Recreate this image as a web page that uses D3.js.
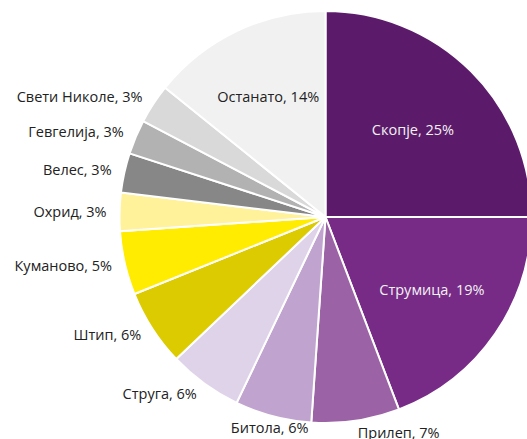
<!DOCTYPE html>
<html>
<head>
<meta charset="utf-8">
<script src="https://cdn.jsdelivr.net/npm/d3@7"></script>
<style>
  html, body { margin: 0; padding: 0; background: #fff; overflow: hidden; }
  text { font-family: "Open Sans", "Noto Sans", sans-serif; font-size: 14.5px; }
</style>
</head>
<body>
<div id="chart"></div>
<script>
// Chart size
var width = 527;
var height = 439;

// Data (share of total, %)
var cities = ["Скопје", "Струмица", "Прилеп", "Битола", "Струга", "Штип",
              "Куманово", "Охрид", "Велес", "Гевгелија", "Свети Николе", "Останато"];
var shares = [25, 19.2, 6.9, 6.0, 5.8, 6.0, 5.0, 3.0, 3.1, 2.7, 3.1, 14.2];
var colors = ["#5c1b6a", "#772b87", "#9b62a6", "#c0a3cf", "#dfd3ea", "#dccb00",
              "#ffec00", "#fff29a", "#878787", "#b2b2b2", "#d9d9d9", "#f1f1f1"];
// which labels sit inside the slice
var insideLabels = ["Скопје", "Струмица", "Останато"];

var cx = 325.5, cy = 217, radius = 206;

var svg = d3.select("#chart").append("svg")
    .attr("width", width)
    .attr("height", height);

var g = svg.append("g")
    .attr("transform", "translate(" + cx + "," + cy + ")");

var pie = d3.pie().sort(null).value(function(d) { return d.value; });
var data = cities.map(function(c, i) { return {name: c, value: shares[i], color: colors[i]}; });
var arcs = pie(data);

var arc = d3.arc().innerRadius(0).outerRadius(radius);

// Slices
g.selectAll(".slice")
    .data(arcs)
    .enter().append("path")
    .attr("class", "slice")
    .attr("d", arc)
    .style("fill", function(d) { return d.data.color; })
    .style("stroke", "#fff")
    .style("stroke-width", 2)
    .style("stroke-linejoin", "round");

function labelText(d) {
    return d.data.name + ", " + Math.round(d.data.value) + "%";
}
function midAngle(d) { return (d.startAngle + d.endAngle) / 2; }

// Inside labels, at the centroid of the sector
g.selectAll(".inlabel")
    .data(arcs.filter(function(d) { return insideLabels.indexOf(d.data.name) >= 0; }))
    .enter().append("text")
    .attr("class", "inlabel")
    .attr("transform", function(d) {
        var t = d.endAngle - d.startAngle;
        var r = 4 * radius * Math.sin(t / 2) / (3 * t);
        var a = midAngle(d);
        return "translate(" + (r * Math.sin(a)) + "," + (-r * Math.cos(a)) + ")";
    })
    .attr("text-anchor", "middle")
    .attr("dy", "0.35em")
    .style("fill", function(d) { return d.data.name === "Останато" ? "#222" : "#f2f2f2"; })
    .text(labelText);

// Outside labels
var rx = radius + 13, ry = radius + 12.5;
g.selectAll(".outlabel")
    .data(arcs.filter(function(d) { return insideLabels.indexOf(d.data.name) < 0; }))
    .enter().append("text")
    .attr("class", "outlabel")
    .attr("transform", function(d) {
        var a = midAngle(d);
        return "translate(" + (rx * Math.sin(a)) + "," + (-ry * Math.cos(a)) + ")";
    })
    .attr("text-anchor", function(d) {
        var s = Math.sin(midAngle(d));
        return s > 0.1 ? "start" : (s < -0.3 ? "end" : "middle");
    })
    .attr("dy", "0.35em")
    .style("fill", "#222")
    .text(labelText);
</script>
</body>
</html>
